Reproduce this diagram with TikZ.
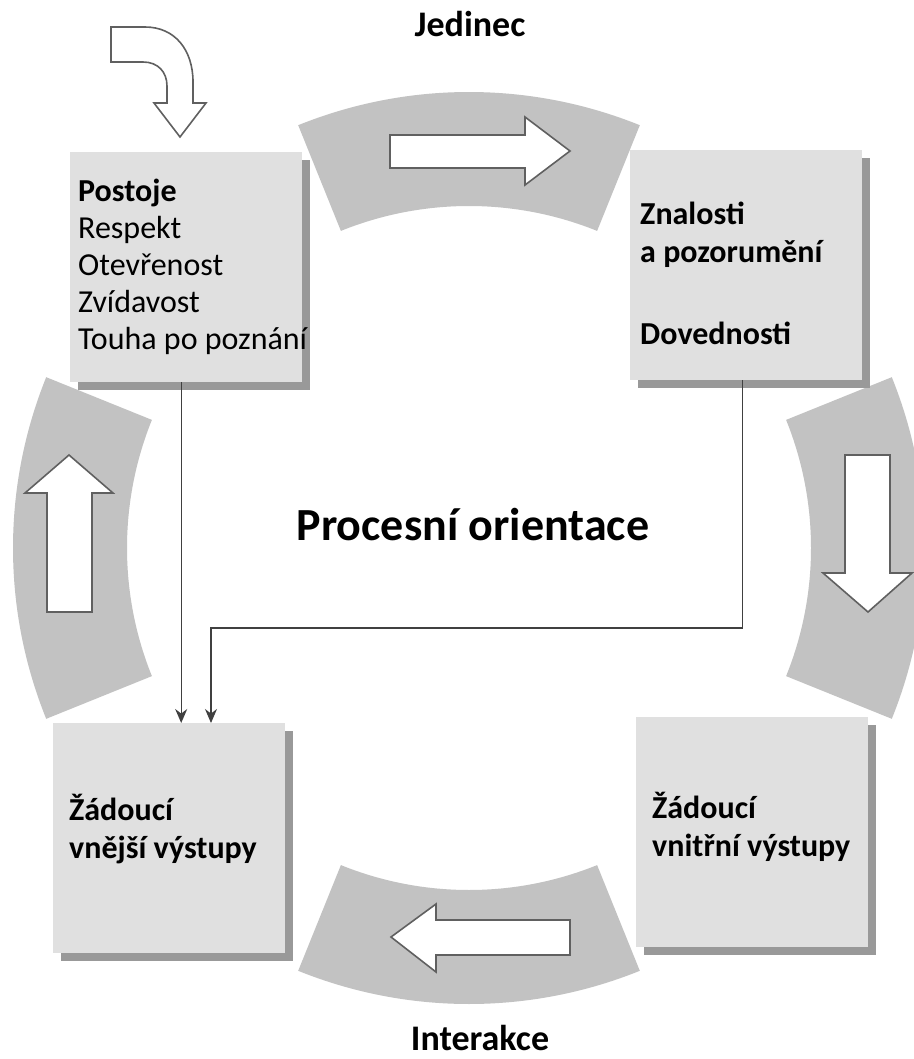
\documentclass[tikz,border=0pt]{standalone}
\usepackage{fontspec}
\setmainfont{Carlito}
\usetikzlibrary{arrows.meta,shadows}
\definecolor{bandgray}{HTML}{C2C2C2}
\definecolor{boxgray}{HTML}{E0E0E0}
\definecolor{shadowgray}{HTML}{999999}
\definecolor{linegray}{HTML}{404040}
\definecolor{outlinegray}{HTML}{606060}

\begin{document}
\begin{tikzpicture}[x=1pt,y=-1pt,
  band/.style={fill=bandgray},
  hollow/.style={fill=white,draw=outlinegray,line width=1.6pt,line join=miter},
  box/.style={fill=boxgray,minimum width=232pt,minimum height=230pt,inner sep=0pt,anchor=north west,
    drop shadow={shadow xshift=8pt,shadow yshift=-8pt,fill=shadowgray,opacity=1}},
  boxtext/.style={anchor=west,align=left,inner sep=0pt,font=\fontsize{32pt}{37pt}\selectfont},
  boldtext/.style={boxtext,font=\bfseries\fontsize{32pt}{38pt}\selectfont},
  title/.style={anchor=base,inner sep=0pt,font=\bfseries\fontsize{36pt}{40pt}\selectfont},
  conn/.style={draw=linegray,line width=1.4pt,-{Stealth[length=14pt,width=12pt]}}]
\useasboundingbox (0,0) rectangle (913,1059);

% ring of four bands
\coordinate (c) at (469,548);
\foreach \a in {270,0,90,180}
  \fill[band] (c) ++(\a-22:456) arc (\a-22:\a+22:456) -- ++(\a+202:114) arc (\a+22:\a-22:342) -- cycle;

% hollow arrows inside the bands
\draw[hollow] (390,135) -- (525,135) -- (525,117) -- (570,151) -- (525,185) -- (525,168) -- (390,168) -- cycle;
\draw[hollow] (845,455) -- (890,455) -- (890,573) -- (912,573) -- (868,612) -- (823,573) -- (845,573) -- cycle;
\draw[hollow] (570,920) -- (436,920) -- (436,904) -- (391,937) -- (436,972) -- (436,955) -- (570,955) -- cycle;
\draw[hollow] (47,612) -- (47,493) -- (25,493) -- (69,455) -- (113,493) -- (92,493) -- (92,612) -- cycle;

% bent arrow into the first box
\draw[hollow] (111,27) -- (145,27) .. controls (175,27) and (193,50) .. (193,82) -- (193,103) -- (206,103)
  -- (180,137) -- (154,103) -- (167,103) -- (167,86) .. controls (167,72) and (158,62) .. (143,62) -- (111,62) -- cycle;

% boxes
\node (attitudes) at (70,152) [box] {};
\node (knowledge) at (630,150) [box] {};
\node (intout) at (636,717) [box] {};
\node (extout) at (53,723) [box] {};

\node (attitudestext) at ([xshift=8pt]attitudes.west) [boxtext] {\textbf{Postoje}\\Respekt\\Otevřenost\\Zvídavost\\Touha po poznání};
\node (knowledgetext) at ([xshift=10pt,yshift=-8pt]knowledge.west) [boldtext] {Znalosti\\a pozorumění\\[44pt]Dovednosti};
\node (intouttext) at ([xshift=16pt,yshift=5pt]intout.west) [boldtext] {Žádoucí\\vnitřní výstupy};
\node (extouttext) at ([xshift=16pt,yshift=9pt]extout.west) [boldtext] {Žádoucí\\vnější výstupy};

% titles
\node (jedinec) at (470,37) [title] {Jedinec};
\node (interakce) at (480,1050) [title] {Interakce};
\node (proces) at (473,540) [title,font=\bfseries\fontsize{46pt}{52pt}\selectfont] {Procesní orientace};

% connectors
\coordinate (bend) at (211,628);
\draw[conn] ([xshift=-5pt]attitudes.south) -- ([xshift=-5pt]attitudes.south |- extout.north);
\draw[conn] ([xshift=-4pt]knowledge.south) |- (bend) -- (bend |- extout.north);
\end{tikzpicture}
\end{document}
